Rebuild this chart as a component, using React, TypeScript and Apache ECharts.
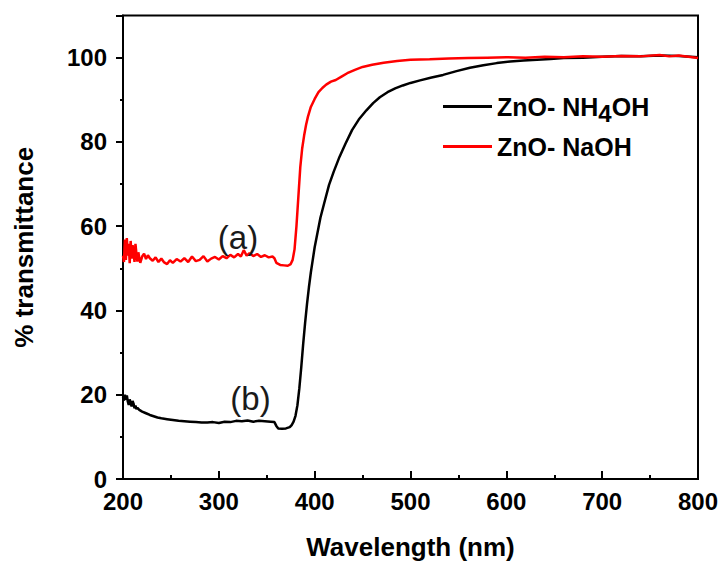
import React, { useEffect, useRef } from 'react';
import * as echarts from 'echarts';

// ZnO- NH4OH  (curve b, black)
const nh4ohWavelengths = [
  200, 201, 202, 203, 204, 205, 206, 207, 208, 209, 210, 211, 212, 213, 214, 215, 217, 220, 224, 228,
  232, 236, 240, 246, 252, 258, 264, 270, 276, 282, 288, 294, 300, 306, 312, 318, 324, 330, 336, 342,
  348, 354, 358, 360, 362, 366, 370, 374, 376, 378, 380, 382, 384, 386, 388, 390, 392, 394, 396, 398,
  400, 403, 406, 410, 415, 420, 426, 432, 439, 446, 454, 461, 468, 476, 484, 492, 500, 510, 522, 534,
  548, 562, 576, 590, 604, 618, 632, 646, 660, 680, 700, 720, 740, 760, 780, 800,
];
const nh4ohValues = [
  19.5, 18.6, 20.0, 18.8, 19.8, 18.4, 17.6, 18.9, 18.0, 17.2, 18.5, 17.9, 16.8, 17.4, 16.6, 16.9, 16.4, 16.0, 15.6, 15.2,
  14.9, 14.6, 14.4, 14.2, 14.0, 13.8, 13.7, 13.6, 13.5, 13.4, 13.4, 13.5, 13.3, 13.6, 13.5, 13.8, 13.7, 13.9, 13.6, 13.8,
  13.7, 13.6, 13.5, 12.6, 12.0, 11.9, 12.0, 12.3, 12.8, 13.6, 15.0, 17.5, 21.5, 26.5, 32.0, 37.0, 41.5, 45.5, 49.0, 52.0,
  55.0, 58.5, 62.0, 65.5, 69.8, 73.0, 76.5, 79.5, 82.8, 85.3, 87.5, 89.2, 90.6, 91.8, 92.7, 93.4, 94.0, 94.6, 95.3, 95.9,
  96.8, 97.6, 98.2, 98.7, 99.1, 99.3, 99.5, 99.7, 99.9, 100.0, 100.2, 100.4, 100.3, 100.5, 100.4, 100.1,
];

// ZnO- NaOH  (curve a, red)
const naohWavelengths = [
  200, 201, 202, 203, 204, 205, 206, 207, 208, 209, 210, 211, 212, 213, 214, 215, 216, 217, 218, 220,
  222, 224, 226, 228, 231, 234, 237, 240, 243, 246, 249, 252, 256, 260, 264, 268, 272, 276, 280, 284,
  288, 292, 296, 300, 304, 308, 312, 316, 320, 323, 326, 329, 332, 336, 340, 344, 348, 352, 356, 358,
  360, 364, 368, 372, 375, 377, 379, 381, 383, 385, 387, 389, 391, 393, 396, 400, 404, 408, 412, 417,
  422, 428, 434, 442, 450, 460, 472, 486, 500, 520, 540, 560, 580, 600, 620, 640, 660, 680, 700, 720,
  740, 760, 770, 780, 790, 800,
];
const naohValues = [
  53.0, 51.5, 56.8, 52.0, 57.2, 53.0, 55.8, 51.2, 56.5, 52.3, 55.5, 54.0, 51.5, 55.8, 53.5, 51.6, 53.8, 52.5, 51.3, 52.8,
  53.5, 52.2, 53.1, 52.4, 51.8, 52.6, 51.5, 52.3, 51.4, 51.0, 51.9, 51.3, 52.2, 51.6, 52.4, 51.5, 52.8, 51.7, 52.0, 52.9,
  51.6, 52.3, 52.7, 52.1, 52.9, 52.4, 53.2, 52.6, 53.4, 52.8, 54.3, 53.0, 53.6, 52.9, 53.4, 52.7, 53.1, 52.6, 52.8, 52.4,
  51.3, 50.8, 50.7, 50.6, 51.0, 52.0, 54.5, 60.0, 67.0, 74.0, 78.5, 81.5, 84.0, 86.0, 88.3, 90.2, 91.8, 92.8, 93.6, 94.3,
  94.7, 95.5, 96.3, 97.1, 97.8, 98.3, 98.8, 99.2, 99.5, 99.6, 99.8, 99.9, 100.0, 100.1, 100.0, 100.2, 100.1, 100.3, 100.2, 100.4,
  100.3, 100.6, 100.3, 100.5, 100.2, 99.9,
];

const seriesNames = ['ZnO- NH4OH', 'ZnO- NaOH'];
const annotations = [
  { text: '(a)', wavelength: 320, value: 57.2 },
  { text: '(b)', wavelength: 333, value: 19.0 },
];

// x-axis tick positions (wavelength) and their heights (in % units)
const xMajorTicks = [300, 400, 500, 600, 700];
const xMinorTicks = [250, 350, 450, 550, 650, 750];
const xMajorTickHeight = 1.9;
const xMinorTickHeight = 0.95;

const FONT = "'Liberation Sans', Arial, sans-serif";

export default function App() {
  const ref = useRef<HTMLDivElement>(null);

  useEffect(() => {
    if (!ref.current) return;
    const chart = echarts.init(ref.current, null, { renderer: 'svg' });

    const black = nh4ohWavelengths.map((w, i) => [w, nh4ohValues[i]]);
    const red = naohWavelengths.map((w, i) => [w, naohValues[i]]);

    const tickLines = [
      ...xMajorTicks.map((v) => [{ coord: [v, 0] }, { coord: [v, xMajorTickHeight] }]),
      ...xMinorTicks.map((v) => [{ coord: [v, 0] }, { coord: [v, xMinorTickHeight] }]),
    ];

    const option: any = {
      animation: false,
      backgroundColor: '#ffffff',
      grid: {
        left: 123,
        right: 25,
        top: 15.5,
        bottom: 81.5,
        show: true,
        borderColor: '#000',
        borderWidth: 2,
        backgroundColor: 'transparent',
      },
      legend: {
        data: seriesNames,
        orient: 'vertical',
        left: 438,
        top: 89,
        icon: 'rect',
        itemWidth: 49,
        itemHeight: 3,
        itemGap: 9,
        formatter: (name: string) =>
          name === 'ZnO- NH4OH' ? '{a|ZnO- NH}{s|4}{a|OH}' : '{a|ZnO- NaOH}',
        textStyle: {
          fontFamily: FONT,
          fontWeight: 'bold',
          fontSize: 25,
          color: '#000',
          rich: {
            a: { fontFamily: FONT, fontWeight: 'bold', fontSize: 25, color: '#000', lineHeight: 38 },
            s: { fontFamily: FONT, fontWeight: 'bold', fontSize: 24, color: '#000', padding: [13, 0, 0, 0] },
          },
        },
      },
      xAxis: {
        type: 'value',
        min: 200,
        max: 800,
        interval: 100,
        name: 'Wavelength (nm)',
        nameLocation: 'middle',
        nameGap: 55,
        nameTextStyle: { fontFamily: FONT, fontWeight: 'bold', fontSize: 26, color: '#000' },
        axisLine: { show: true, onZero: false, lineStyle: { color: '#000', width: 2 } },
        axisTick: { show: true, inside: true, length: 8, lineStyle: { color: '#000', width: 2 } },
        minorTick: { show: true, splitNumber: 2, length: 4, lineStyle: { color: '#000', width: 2 } },
        axisLabel: { show: true, margin: 10, fontFamily: FONT, fontWeight: 'bold', fontSize: 24, color: '#000' },
        splitLine: { show: false },
      },
      yAxis: {
        type: 'value',
        min: 0,
        max: 110,
        interval: 20,
        name: '% transmittance',
        nameLocation: 'middle',
        nameGap: 86,
        nameTextStyle: { fontFamily: FONT, fontWeight: 'bold', fontSize: 26, color: '#000' },
        axisLine: { show: true, onZero: false, lineStyle: { color: '#000', width: 2 } },
        axisTick: { show: true, inside: false, length: 7, lineStyle: { color: '#000', width: 2 } },
        minorTick: { show: true, splitNumber: 2, length: 3, lineStyle: { color: '#000', width: 2 } },
        axisLabel: {
          show: true,
          margin: 16,
          showMaxLabel: false,
          fontFamily: FONT,
          fontWeight: 'bold',
          fontSize: 24,
          color: '#000',
          formatter: (v: number) => (v > 100 ? '' : String(v)),
        },
        splitLine: { show: false },
      },
      series: [
        {
          name: seriesNames[0],
          type: 'line',
          data: black,
          showSymbol: false,
          symbol: 'none',
          color: '#000000',
          lineStyle: { color: '#000000', width: 2.5 },
          z: 2,
          markLine: {
            silent: true,
            symbol: ['none', 'none'],
            label: { show: false },
            lineStyle: { color: '#000', width: 2, type: 'solid' },
            emphasis: { disabled: true },
            data: tickLines,
          },
        },
        {
          name: seriesNames[1],
          type: 'line',
          data: red,
          showSymbol: false,
          symbol: 'none',
          color: '#ff0000',
          lineStyle: { color: '#ff0000', width: 2.5 },
          z: 3,
          markPoint: {
            symbol: 'rect',
            symbolSize: [1, 1],
            silent: true,
            itemStyle: { color: 'rgba(0,0,0,0)' },
            label: {
              show: true,
              position: 'inside',
              fontFamily: FONT,
              fontSize: 33,
              color: '#1a1a1a',
              formatter: (p: any) => p.name,
            },
            data: annotations.map((a) => ({ name: a.text, coord: [a.wavelength, a.value] })),
          },
        },
      ],
    };

    chart.setOption(option);
    return () => chart.dispose();
  }, []);

  return (
    <div
      ref={ref}
      style={{ position: 'absolute', left: 0, top: 0, width: 723, height: 565 }}
    />
  );
}
